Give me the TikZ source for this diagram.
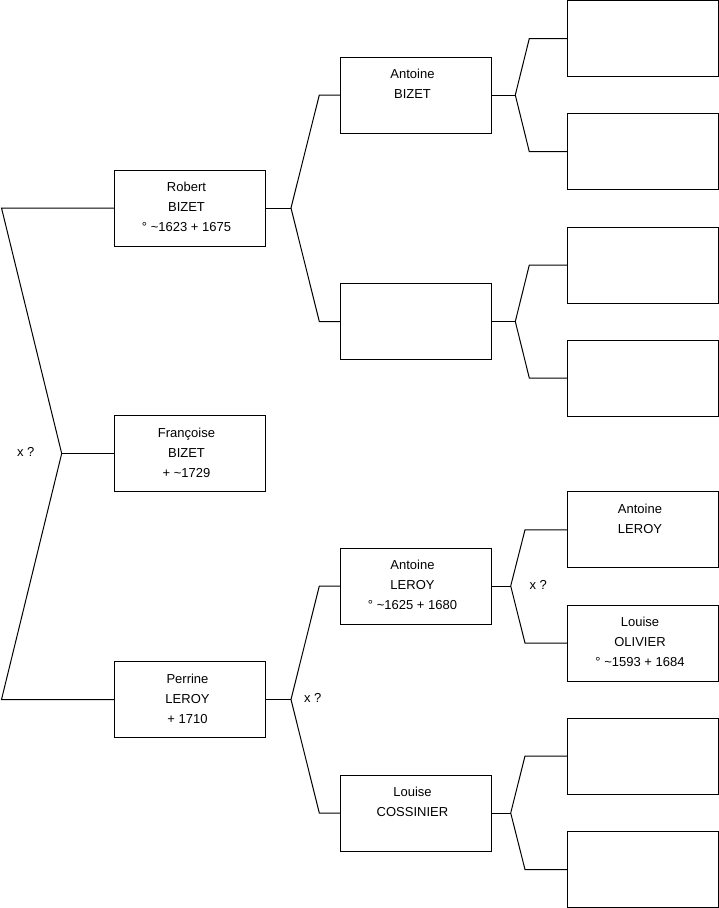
\documentclass[tikz,border=0pt]{standalone}
\usepackage{fontspec}
\setmainfont{Liberation Sans}
\begin{document}
\begin{tikzpicture}[x=1pt,y=-1pt,line width=1pt,
  person/.style={draw,minimum width=151pt,minimum height=76pt,inner sep=0pt,outer sep=0pt},
  ptext/.style={font=\fontsize{13}{20}\selectfont,align=center,anchor=north,inner sep=0pt},
  xq/.style={font=\fontsize{13}{20}\selectfont,anchor=base,inner sep=0pt},
  link/.style={draw,line join=miter}]
\useasboundingbox (0,0) rectangle (719,908);
% generation 1
\node[person] (r) at (189.5,208) {};
\node[person] (f) at (189.5,453.5) {};
\node[person] (p) at (189.5,699.5) {};
% generation 2
\node[person] (ab) at (415.5,95) {};
\node[person] (e) at (415.5,321.5) {};
\node[person] (al) at (415.5,586) {};
\node[person] (lc) at (415.5,813) {};
% generation 3
\node[person] (g1) at (643,38.5) {};
\node[person] (g2) at (643,151.7) {};
\node[person] (g3) at (643,265) {};
\node[person] (g4) at (643,378) {};
\node[person] (g5) at (643,529.8) {};
\node[person] (g6) at (643,643) {};
\node[person] (g7) at (643,756) {};
\node[person] (g8) at (643,869.5) {};
% texts
\node[ptext] (tr) at ([xshift=-3pt,yshift=-11.7pt]r.north) {Robert\\BIZET\\° \textasciitilde1623 + 1675};
\node[ptext] (tf) at ([xshift=-3pt,yshift=-11.7pt]f.north) {Françoise\\BIZET\\ + \textasciitilde1729};
\node[ptext] (tp) at ([xshift=-2pt,yshift=-11.7pt]p.north) {Perrine\\LEROY\\ + 1710};
\node[ptext] (tab) at ([xshift=-3pt,yshift=-11.7pt]ab.north) {Antoine\\BIZET};
\node[ptext] (tal) at ([xshift=-3pt,yshift=-11.7pt]al.north) {Antoine\\LEROY\\° \textasciitilde1625 + 1680};
\node[ptext] (tlc) at ([xshift=-3pt,yshift=-11.7pt]lc.north) {Louise\\COSSINIER};
\node[ptext] (tg5) at ([xshift=-3pt,yshift=-11.7pt]g5.north) {Antoine\\LEROY};
\node[ptext] (tg6) at ([xshift=-3pt,yshift=-11.7pt]g6.north) {Louise\\OLIVIER\\° \textasciitilde1593 + 1684};
% marriage labels
\node[xq] (x0) at (25.8,456.7) {x ?};
\node[xq] (x1) at (312.7,702.7) {x ?};
\node[xq] (x2) at (538.3,589) {x ?};
% connectors
\coordinate (b0t) at (1.5,208);
\coordinate (f0) at (61.7,453.5);
\coordinate (b0b) at (1.5,699.5);
\path[link] (r.west) -- (b0t) -- (f0) -- (b0b) -- (p.west);
\path[link] (f0) -- (f.west);
\coordinate (f1) at (291,208);
\coordinate (e1a) at (319.3,95);
\coordinate (e1b) at (319.3,321.5);
\path[link] (r.east) -- (f1);
\path[link] (ab.west) -- (e1a) -- (f1) -- (e1b) -- (e.west);
\coordinate (f2) at (291,699.5);
\coordinate (e2a) at (319.3,586);
\coordinate (e2b) at (319.3,813);
\path[link] (p.east) -- (f2);
\path[link] (al.west) -- (e2a) -- (f2) -- (e2b) -- (lc.west);
\coordinate (f3) at (515.3,95);
\coordinate (e3a) at (529.3,38.5);
\coordinate (e3b) at (529.3,151.7);
\path[link] (ab.east) -- (f3);
\path[link] (g1.west) -- (e3a) -- (f3) -- (e3b) -- (g2.west);
\coordinate (f4) at (515.3,321.5);
\coordinate (e4a) at (529.3,265);
\coordinate (e4b) at (529.3,378);
\path[link] (e.east) -- (f4);
\path[link] (g3.west) -- (e4a) -- (f4) -- (e4b) -- (g4.west);
\coordinate (f5) at (510.7,586);
\coordinate (e5a) at (525,529.8);
\coordinate (e5b) at (525,643);
\path[link] (al.east) -- (f5);
\path[link] (g5.west) -- (e5a) -- (f5) -- (e5b) -- (g6.west);
\coordinate (f6) at (510.7,813);
\coordinate (e6a) at (525,756);
\coordinate (e6b) at (525,869.5);
\path[link] (lc.east) -- (f6);
\path[link] (g7.west) -- (e6a) -- (f6) -- (e6b) -- (g8.west);
\end{tikzpicture}
\end{document}
